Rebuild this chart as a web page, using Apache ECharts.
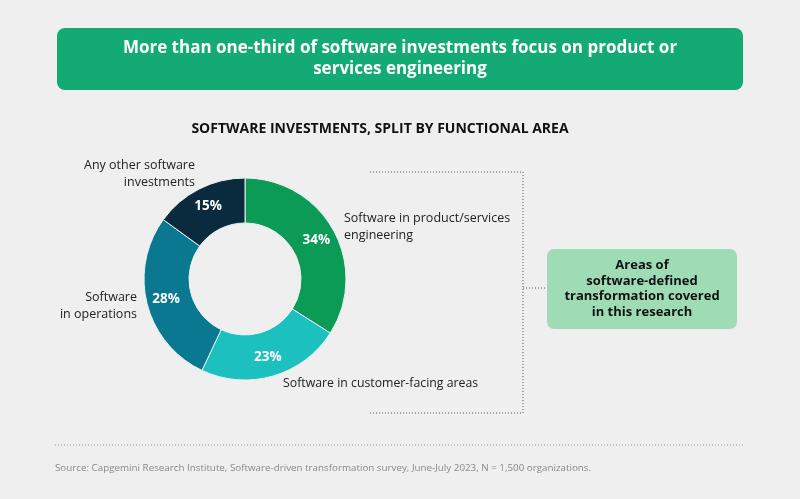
<!DOCTYPE html>
<html><head><meta charset="utf-8">
<script src="https://cdn.jsdelivr.net/npm/echarts@6/dist/echarts.min.js"></script>
<style>html,body{margin:0;padding:0;background:#efeff0;}#c{width:800px;height:499px;}</style>
</head><body><div id="c"></div>
<script>
var categories = ['Software in product/services engineering','Software in customer-facing areas','Software in operations','Any other software investments'];
var values = [34, 23, 28, 15];
var colors = ['#0b9b57','#1cc0be','#0b7891','#0a2b3d'];
var title = 'More than one-third of software investments focus on product or\nservices engineering';
var subtitle = 'SOFTWARE INVESTMENTS, SPLIT BY FUNCTIONAL AREA';
var boxText = 'Areas of\nsoftware-defined\ntransformation covered\nin this research';
var source = 'Source: Capgemini Research Institute, Software-driven transformation survey, June-July 2023, N = 1,500 organizations.';

var F = '"Open Sans", "Noto Sans", sans-serif';
var chart = echarts.init(document.getElementById('c'));
var dotted = {stroke:'#555', lineWidth:1, lineDash:[1,2]};
chart.setOption({
  backgroundColor:'#efeff0',
  animation:false,
  series:[{
    type:'pie',
    center:[245,279],
    radius:[56,101],
    startAngle:90,
    clockwise:true,
    itemStyle:{borderColor:'#e8f4f0', borderWidth:1},
    label:{position:'inside', formatter:'{c}%', color:'#fff', fontFamily:F, fontSize:13.5, fontWeight:'bold'},
    labelLine:{show:false},
    data: categories.map(function(n,i){return {name:n, value:values[i], itemStyle:{color:colors[i]}};})
  }],
  graphic:[
    {type:'rect', shape:{x:57,y:28,width:686,height:62,r:8}, style:{fill:'#13aa73'}},
    {type:'text', x:400, y:59, style:{text:title, fill:'#fff', font:'bold 17px '+F, textAlign:'center', textVerticalAlign:'middle', lineHeight:21}},
    {type:'text', x:380, y:129, style:{text:subtitle, fill:'#111', font:'bold 14px '+F, textAlign:'center', textVerticalAlign:'middle'}},
    {type:'text', x:195, y:174, style:{text:'Any other software\ninvestments', fill:'#222', font:'12.5px '+F, textAlign:'right', textVerticalAlign:'middle', lineHeight:17}},
    {type:'text', x:137, y:306, style:{text:'Software\nin operations', fill:'#222', font:'12.5px '+F, textAlign:'right', textVerticalAlign:'middle', lineHeight:17}},
    {type:'text', x:344, y:227, style:{text:'Software in product/services\nengineering', fill:'#222', font:'12.5px '+F, textAlign:'left', textVerticalAlign:'middle', lineHeight:17}},
    {type:'text', x:283, y:383, style:{text:categories[1], fill:'#222', font:'12.3px '+F, textAlign:'left', textVerticalAlign:'middle'}},
    {type:'polyline', shape:{points:[[370,172],[523,172],[523,413],[370,413]]}, style:Object.assign({fill:null},dotted)},
    {type:'line', shape:{x1:523,y1:288,x2:547,y2:288}, style:dotted},
    {type:'rect', shape:{x:547,y:249,width:190,height:80,r:7}, style:{fill:'#9fdcb5'}},
    {type:'text', x:642, y:289, style:{text:boxText, fill:'#111', font:'bold 13px '+F, textAlign:'center', textVerticalAlign:'middle', lineHeight:15.5}},
    {type:'line', shape:{x1:55,y1:445,x2:743,y2:445}, style:{stroke:'#999', lineWidth:1, lineDash:[1,2]}},
    {type:'text', x:55, y:468, style:{text:source, fill:'#888', font:'9.8px '+F, textAlign:'left', textVerticalAlign:'middle'}}
  ]
});
</script></body></html>
